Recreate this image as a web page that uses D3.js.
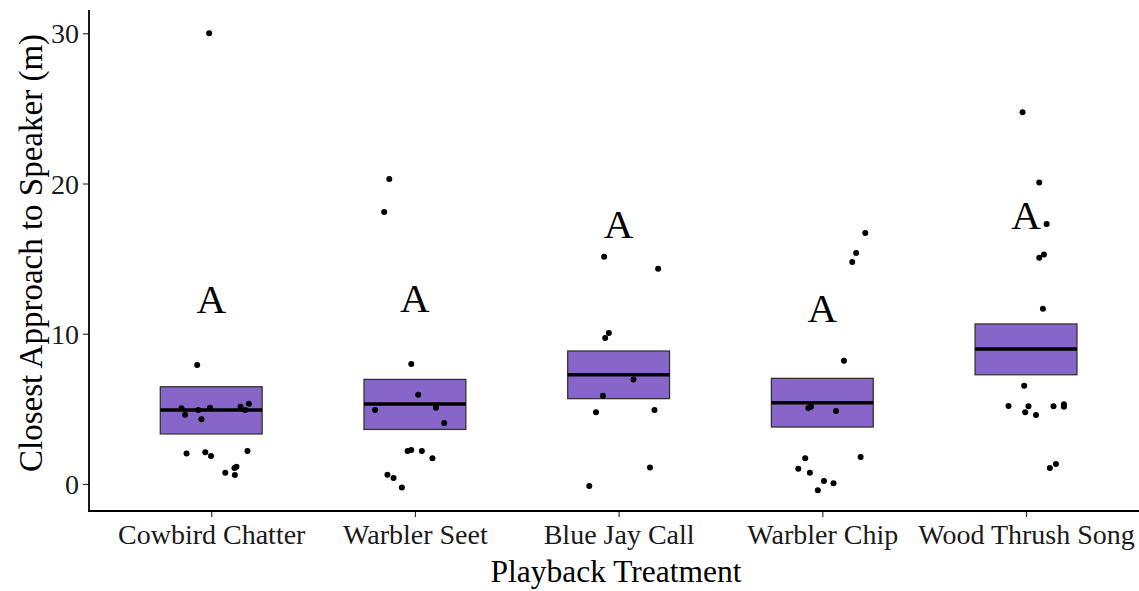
<!DOCTYPE html>
<html>
<head>
<meta charset="utf-8">
<script src="https://cdn.jsdelivr.net/npm/d3@7"></script>
<style>
html,body{margin:0;padding:0;background:#fff;}
svg{display:block;font-family:"Liberation Serif","Times New Roman",serif;}
</style>
</head>
<body>
<svg id="chart" width="1139" height="591"></svg>
<script>
const categories = ["Cowbird Chatter","Warbler Seet","Blue Jay Call","Warbler Chip","Wood Thrush Song"];
const meanValues = [4.92, 5.32, 7.27, 5.41, 8.98];
const lowValues  = [3.33, 3.63, 5.68, 3.79, 7.27];
const highValues = [6.47, 6.96, 8.85, 7.03, 10.65];
const letters = ["A","A","A","A","A"];
const letterY = [11.40, 11.46, 16.35, 10.80, 17.00];
const yTicks = [0, 10, 20, 30];
// points: [jitter offset in category units, value]
const cowbirdPts = [[-0.069,7.92],[-0.146,5.04],[-0.128,4.61],[-0.064,4.92],[-0.048,4.30],[-0.006,5.08],[0.144,5.14],[0.167,4.92],[0.185,5.34],[-0.121,2.02],[-0.029,2.11],[-0.001,1.86],[0.178,2.19],[0.069,0.75],[0.114,1.06],[0.124,1.15],[0.116,0.60],[-0.010,30.0]];
const seetPts = [[-0.018,7.98],[0.016,5.94],[-0.196,4.92],[0.103,5.08],[0.144,4.06],[-0.036,2.19],[-0.018,2.26],[0.034,2.19],[0.086,1.71],[-0.135,0.62],[-0.105,0.40],[-0.064,-0.24],[-0.151,18.1],[-0.126,20.3]];
const blueJayPts = [[-0.071,15.12],[0.194,14.33],[-0.048,10.05],[-0.066,9.71],[0.073,6.96],[-0.077,5.88],[-0.111,4.77],[0.176,4.92],[0.154,1.09],[-0.144,-0.13]];
const chipPts = [[0.106,8.2],[-0.069,5.06],[-0.056,5.14],[0.067,4.86],[-0.084,1.71],[0.188,1.80],[-0.118,1.02],[-0.061,0.75],[0.008,0.20],[0.055,0.05],[-0.022,-0.42],[0.147,14.77],[0.166,15.37],[0.211,16.7]];
const woodPts = [[0.083,11.66],[-0.009,6.54],[-0.086,5.19],[0.012,5.17],[-0.004,4.77],[0.049,4.59],[0.135,5.17],[0.186,5.30],[0.186,5.14],[0.117,1.06],[0.147,1.33],[-0.017,24.75],[0.065,20.07],[0.101,17.3],[0.088,15.28],[0.065,15.06]];
const pointSets = [cowbirdPts, seetPts, blueJayPts, chipPts, woodPts];

const svg = d3.select("#chart");
const panel = {left: 89, top: 10, bottom: 511};
const step = 203.7;
const x = d3.scalePoint().domain(categories).range([panel.left + 0.6*step, panel.left + 4.6*step]);
const xRight = panel.left + 5.2*step;
const y = d3.scaleLinear().domain([-1.8, 31.55]).range([panel.bottom, panel.top]);
const halfW = 0.25 * step;

// boxes (mean ± SE crossbars)
const g = svg.append("g");
categories.forEach((c, i) => {
  const cx = x(c);
  g.append("rect")
    .attr("x", cx - halfW).attr("width", 2*halfW)
    .attr("y", y(highValues[i])).attr("height", y(lowValues[i]) - y(highValues[i]))
    .attr("fill", "#8866c9").attr("stroke", "#333").attr("stroke-width", 1.3);
  g.append("line")
    .attr("x1", cx - halfW).attr("x2", cx + halfW)
    .attr("y1", y(meanValues[i])).attr("y2", y(meanValues[i]))
    .attr("stroke", "#000").attr("stroke-width", 3.5);
});

// points
categories.forEach((c, i) => {
  g.selectAll(null).data(pointSets[i]).enter().append("circle")
    .attr("cx", d => x(c) + d[0]*step)
    .attr("cy", d => y(d[1]))
    .attr("r", 3).attr("fill", "#000");
});

// letters
categories.forEach((c, i) => {
  g.append("text")
    .attr("x", x(c)).attr("y", y(letterY[i]))
    .attr("text-anchor", "middle")
    .attr("font-size", 41).attr("fill", "#000")
    .text(letters[i]);
});

// y axis
const yAxis = d3.axisLeft(y).tickValues(yTicks).tickSize(6).tickPadding(4).tickSizeOuter(0);
const ya = svg.append("g").attr("transform", `translate(${panel.left},0)`).call(yAxis);
ya.select(".domain").remove();
ya.selectAll(".tick line").attr("stroke", "#333").attr("stroke-width", 1.2);
ya.selectAll(".tick text").attr("font-size", 28).attr("fill", "#1a1a1a")
  .attr("font-family", "Liberation Serif").attr("dy", "0.34em");

// x axis
const xAxis = d3.axisBottom(x).tickSize(6).tickPadding(7).tickSizeOuter(0);
const xa = svg.append("g").attr("transform", `translate(0,${panel.bottom})`).call(xAxis);
xa.select(".domain").remove();
xa.selectAll(".tick line").attr("stroke", "#333").attr("stroke-width", 1.2);
xa.selectAll(".tick text").attr("font-size", 28).attr("fill", "#1a1a1a")
  .attr("font-family", "Liberation Serif").attr("dy", "0.71em");

// axis lines
svg.append("line").attr("x1", panel.left).attr("x2", panel.left)
  .attr("y1", panel.top).attr("y2", panel.bottom + 0.75)
  .attr("stroke", "#000").attr("stroke-width", 1.8);
svg.append("line").attr("x1", panel.left - 0.9).attr("x2", xRight)
  .attr("y1", panel.bottom).attr("y2", panel.bottom)
  .attr("stroke", "#000").attr("stroke-width", 1.8);

// titles
svg.append("text").attr("x", 616).attr("y", 582)
  .attr("text-anchor", "middle").attr("font-size", 31.5).attr("fill", "#000")
  .text("Playback Treatment");
svg.append("text").attr("transform", "translate(42,253) rotate(-90)")
  .attr("text-anchor", "middle").attr("font-size", 33).attr("fill", "#000")
  .text("Closest Approach to Speaker (m)");
</script>
</body>
</html>
